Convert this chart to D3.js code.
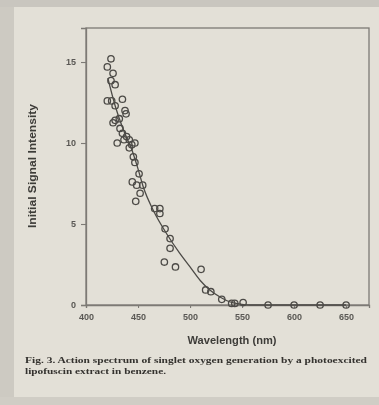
<!DOCTYPE html>
<html>
<head>
<meta charset="utf-8">
<script src="https://cdn.jsdelivr.net/npm/d3@7"></script>
<style>
  html, body { margin: 0; padding: 0; background: #dedbd2; }
  svg { display: block; }
</style>
</head>
<body>
<svg id="chart"></svg>
<script>
// measured points (wavelength nm, initial signal intensity)
const wavelengths = [424, 420.5, 426, 424, 428, 420.5, 424.7, 428, 435, 437.5, 438.5, 428, 432, 426,
  432.7, 435, 439, 430, 436.5, 441.6, 444, 447, 441.6, 445.5, 447, 451, 444.5, 448.7, 454.5, 452,
  447.8, 466, 471, 471, 476, 480.8, 480.8, 475.3, 486, 510.6, 515, 520, 530.5, 540, 543, 551,
  575, 600, 625, 650];
const intensities = [15.2, 14.7, 14.3, 13.85, 13.6, 12.6, 12.6, 12.3, 12.7, 12.0, 11.8, 11.4, 11.5, 11.25,
  10.9, 10.6, 10.4, 10.0, 10.2, 10.2, 9.9, 10.0, 9.7, 9.15, 8.8, 8.1, 7.6, 7.4, 7.4, 6.9,
  6.4, 5.95, 5.95, 5.65, 4.7, 4.1, 3.5, 2.65, 2.35, 2.2, 0.93, 0.82, 0.35, 0.1, 0.1, 0.15,
  0, 0, 0, 0];

// fitted curve
const fitWavelengths = [421, 428, 436, 444, 450, 455, 465, 477.5, 490, 500, 510, 519, 530, 538, 548, 558, 575, 600, 625, 650];
const fitValues = [14.0, 12.3, 10.8, 9.6, 8.4, 7.3, 5.8, 4.4, 3.2, 2.35, 1.5, 0.93, 0.45, 0.2, 0.06, 0, 0, 0, 0, 0];

const xTicks = [400, 450, 500, 550, 600, 650];
const yTicks = [0, 5, 10, 15];

const captionLines = [
  'Fig. 3. Action spectrum of singlet oxygen generation by a photoexcited',
  'lipofuscin extract in benzene.'
];
const captionWidths = [342, 141];

const width = 379, height = 405;
const plot = { left: 86, right: 369, top: 28, bottom: 305 };
const ink = '#4c4a46';
const frame = '#7d7a75';

const svg = d3.select('svg#chart')
  .attr('width', width)
  .attr('height', height);

svg.append('defs').append('filter')
  .attr('id', 'soft')
  .append('feGaussianBlur')
  .attr('stdDeviation', 0.5);

// paper + photo edges
svg.append('rect').attr('width', width).attr('height', height).attr('fill', '#e3e0d7');
svg.append('rect').attr('width', 14).attr('height', height).attr('fill', '#cdcac2');
svg.append('rect').attr('width', width).attr('height', 7).attr('fill', '#c9c6bf');
svg.append('rect').attr('y', 397).attr('width', width).attr('height', 8).attr('fill', '#d0cdc5');

const xScale = d3.scaleLinear()
  .domain([400, 672])
  .range([plot.left, plot.right]);

const yScale = d3.scaleLinear()
  .domain([0, 17.1])
  .range([plot.bottom, plot.top]);

const g = svg.append('g').attr('filter', 'url(#soft)');

// frame
g.append('rect')
  .attr('x', plot.left)
  .attr('y', plot.top)
  .attr('width', plot.right - plot.left)
  .attr('height', plot.bottom - plot.top)
  .attr('fill', 'none')
  .attr('stroke', frame)
  .attr('stroke-width', 1.3);

const xAxis = g.append('g')
  .attr('transform', 'translate(0,' + plot.bottom + ')')
  .call(d3.axisBottom(xScale).tickValues(xTicks).tickSize(3).tickPadding(6));

const yAxis = g.append('g')
  .attr('transform', 'translate(' + plot.left + ',0)')
  .call(d3.axisLeft(yScale).tickValues(yTicks).tickSize(5).tickPadding(5));

[xAxis, yAxis].forEach(a => {
  a.select('.domain').attr('stroke', frame).attr('stroke-width', 1.3);
  a.selectAll('.tick line').attr('stroke', frame).attr('stroke-width', 1.1);
  a.selectAll('.tick text')
    .attr('fill', '#5a5854')
    .attr('font-family', 'Liberation Sans, Arial, sans-serif')
    .attr('font-weight', 'bold')
    .attr('font-size', 9);
});

// fitted curve
const line = d3.line()
  .x((d, i) => xScale(fitWavelengths[i]))
  .y(d => yScale(d))
  .curve(d3.curveMonotoneX);

g.append('path')
  .datum(fitValues)
  .attr('d', line)
  .attr('fill', 'none')
  .attr('stroke', ink)
  .attr('stroke-width', 1.3);

g.selectAll('circle.pt')
  .data(intensities).enter().append('circle')
  .attr('class', 'pt')
  .attr('r', 3.2)
  .attr('cx', (d, i) => xScale(wavelengths[i]))
  .attr('cy', d => yScale(d))
  .attr('fill', 'none')
  .attr('stroke', ink)
  .attr('stroke-width', 1.3);

// axis titles
g.append('text')
  .attr('x', 232)
  .attr('y', 344)
  .attr('text-anchor', 'middle')
  .attr('font-family', 'Liberation Sans, Arial, sans-serif')
  .attr('font-weight', 'bold')
  .attr('font-size', 10.5)
  .attr('textLength', 89)
  .attr('lengthAdjust', 'spacingAndGlyphs')
  .attr('fill', '#3e3c39')
  .text('Wavelength (nm)');

g.append('text')
  .attr('transform', 'translate(36,166) rotate(-90)')
  .attr('text-anchor', 'middle')
  .attr('font-family', 'Liberation Sans, Arial, sans-serif')
  .attr('font-weight', 'bold')
  .attr('font-size', 10)
  .attr('textLength', 124)
  .attr('lengthAdjust', 'spacingAndGlyphs')
  .attr('fill', '#3e3c39')
  .text('Initial Signal Intensity');

// caption
g.selectAll('text.caption')
  .data(captionLines).enter().append('text')
  .attr('class', 'caption')
  .attr('x', 25)
  .attr('y', (d, i) => 363 + i * 11)
  .attr('font-family', 'Liberation Serif, Times New Roman, serif')
  .attr('font-size', 9.2)
  .attr('font-weight', 'bold')
  .attr('textLength', (d, i) => captionWidths[i])
  .attr('lengthAdjust', 'spacingAndGlyphs')
  .attr('fill', '#34322f')
  .text(d => d);
</script>
</body>
</html>
